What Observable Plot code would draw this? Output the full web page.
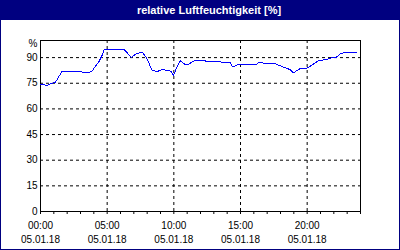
<!DOCTYPE html>
<html>
<head>
<meta charset="utf-8">
<script src="https://cdn.jsdelivr.net/npm/d3@7"></script>
<script src="https://cdn.jsdelivr.net/npm/@observablehq/plot@0.6"></script>
<style>
  html, body { margin: 0; padding: 0; background: #fff; }
  #box { width: 400px; height: 250px; box-sizing: border-box; border: 1px solid #000080; background: #fff; overflow: hidden; }
  #title { height: 19px; background: #000080; color: #fff; font: bold 11px "Liberation Sans", Arial, sans-serif; text-align: center; line-height: 19px; padding-left: 18px; }
  #chart svg { display: block; }
</style>
</head>
<body>
<div id="box">
  <div id="title">relative Luftfeuchtigkeit [%]</div>
  <div id="chart"></div>
</div>
<script>
const times = ["00:00","00:30","00:45","01:07","01:37","03:00","03:22","03:37","03:52","04:07","04:22","04:37","04:47",
  "06:17","06:49","07:04","07:22","07:41","07:59","08:22","08:44","09:07","09:26","09:47","09:59","10:14","10:29",
  "10:51","11:06","11:28","11:59","14:13","14:23","14:36","14:50","16:13","16:23","16:43","17:28","18:05","18:43",
  "18:58","19:16","19:28","19:55","20:13","20:35","20:54","21:28","21:50","22:12","22:28","22:42","23:42"];
const humidity = [74.4,73.8,74.8,75.5,82,81.8,81,81.2,82.1,85,87.4,91.3,94.7,
  94.7,90,91.7,92.7,92.7,89.4,82.6,81.8,83,82.6,82.1,79.6,84.5,88.2,
  85.9,86,88,88.2,87.1,84.9,85.1,86.2,86.2,87.2,86.8,86.8,84.9,83,
  81,82.6,83.5,83.7,84.9,86.8,88.4,88.8,90,90.3,92.1,92.7,92.9];
const xTicks = [0, 5, 10, 15, 20];
const xTimeLabels = ["00:00", "05:00", "10:00", "15:00", "20:00"];
const xDateLabels = ["05.01.18", "05.01.18", "05.01.18", "05.01.18", "05.01.18"];
const yTicks = [0, 15, 30, 45, 60, 75, 90];
const yUnit = "%";

const toHours = s => { const [h, m] = s.split(":").map(Number); return h + m / 60; };
const data = times.map((t, i) => ({hour: toHours(t), value: humidity[i]}));

const black = "#000";
const chart = Plot.plot({
  width: 398,
  height: 229,
  marginLeft: 39,
  marginRight: 39,
  marginTop: 20,
  marginBottom: 38,
  x: {domain: [0, 24]},
  y: {domain: [0, 100]},
  style: {fontFamily: "'Liberation Sans', Arial, sans-serif", fontSize: "10px", color: black, background: "#fff"},
  marks: [
    Plot.gridY(yTicks.slice(1), {stroke: black, strokeOpacity: 1, strokeDasharray: "3,3"}),
    Plot.gridX(xTicks.slice(1), {stroke: black, strokeOpacity: 1, strokeDasharray: "3,3"}),
    Plot.frame({stroke: black}),
    Plot.axisY({ticks: yTicks, tickSize: 0, tickPadding: 3, label: null}),
    Plot.axisY({ticks: [100], tickSize: 0, tickPadding: 3, dy: 3, tickFormat: () => yUnit, label: null}),
    Plot.axisX({ticks: d3.range(0, 25), tickSize: 3, tickFormat: () => "", label: null}),
    Plot.axisX({ticks: xTicks, tickSize: 0, tickPadding: 10, tickFormat: d => xTimeLabels[xTicks.indexOf(d)], label: null}),
    Plot.axisX({ticks: xTicks, tickSize: 0, tickPadding: 24, tickFormat: d => xDateLabels[xTicks.indexOf(d)], label: null}),
    Plot.line(data, {x: "hour", y: "value", stroke: "#0000ff", strokeWidth: 1, shapeRendering: "crispEdges"})
  ]
});
document.getElementById("chart").appendChild(chart);
</script>
</body>
</html>
